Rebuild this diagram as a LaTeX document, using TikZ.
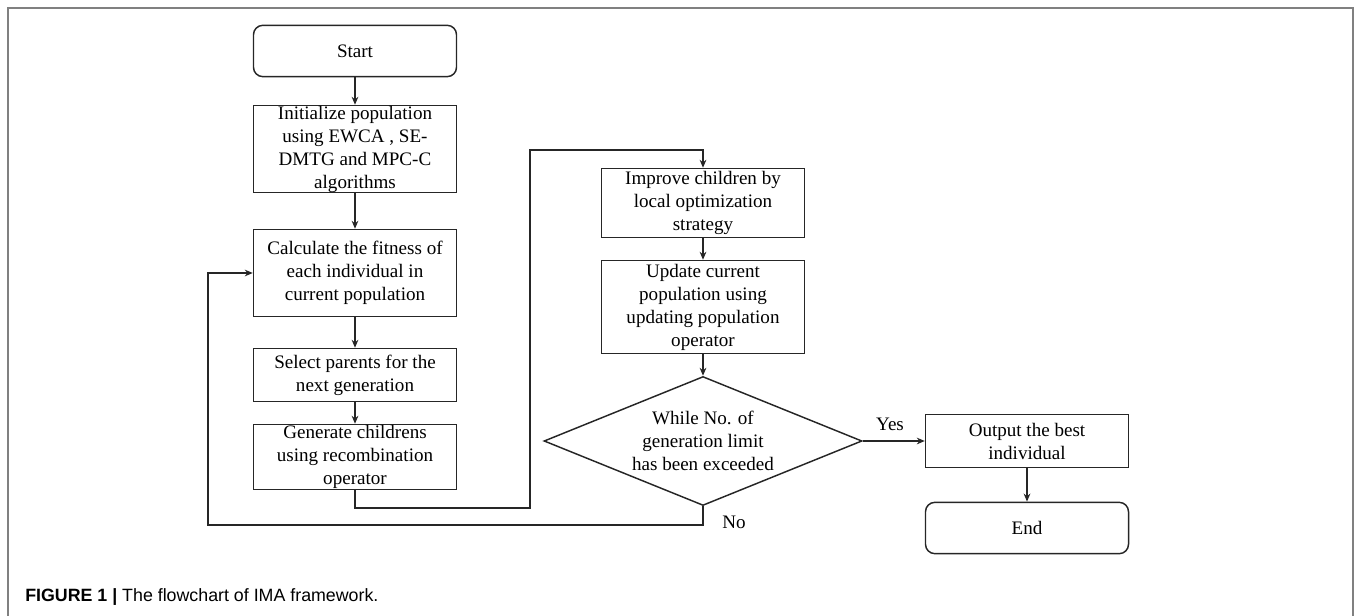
\documentclass[tikz,border=0pt]{standalone}
\usepackage{fontspec}
\setmainfont{Liberation Serif}
\newfontfamily\capfont{Liberation Sans}
\usetikzlibrary{arrows.meta, shapes.geometric}
\definecolor{imaline}{HTML}{262626}
\definecolor{imaframe}{HTML}{808080}

\begin{document}
\begin{tikzpicture}[x=0.75pt, y=-0.75pt,
    flowstep/.style={rectangle, draw=imaline, line width=1.1pt, align=center,
                 font=\fontsize{14.3}{17.25}\selectfont, minimum width=152.25pt, inner ysep=0pt},
    termstep/.style={flowstep, rounded corners=7pt, minimum height=38.5pt},
    decstep/.style={diamond, aspect=2.47, draw=imaline, line width=1.1pt, align=center,
                 font=\fontsize{14.3}{17.25}\selectfont, minimum width=238.5pt,
                 minimum height=96.75pt, inner sep=0pt},
    arr/.style={-{Stealth[length=6pt, width=5pt]}, line width=1.1pt, draw=imaline},
    lbl/.style={font=\fontsize{14.3}{17.25}\selectfont, inner sep=0pt}
  ]
    \useasboundingbox (0,0) rectangle (1355,616);
    \draw[imaframe, line width=1.4pt] (8,616) -- (8,8) -- (1353,8) -- (1353,616);

    % left column
    \node[termstep] (start) at (355,51) {Start};
    \node[flowstep, minimum height=65.25pt] (init) at (355,149)
        {Initialize population\\ using EWCA , SE-\\ DMTG and MPC-C\\ algorithms};
    \node[flowstep, minimum height=65.25pt] (calc) at (355,273)
        {Calculate the fitness of\\ each individual in\\ current population};
    \node[flowstep, minimum height=39.75pt] (select) at (355,375)
        {Select parents for the\\ next generation};
    \node[flowstep, minimum height=48.75pt] (gen) at (355,457)
        {Generate childrens\\ using recombination\\ operator};

    % middle column
    \node[flowstep, minimum height=51.75pt] (improve) at (703,203)
        {Improve children by\\ local optimization\\ strategy};
    \node[flowstep, minimum height=69.75pt] (update) at (703,307)
        {Update current\\ population using\\ updating population\\ operator};
    \node[decstep] (limit) at (703,441)
        {While No. of\\ generation limit\\ has been exceeded};

    % right column
    \node[flowstep, minimum height=39.75pt] (output) at (1027,441)
        {Output the best\\ individual};
    \node[termstep] (end) at (1027,528) {End};

    \coordinate (gdown) at (530,508);
    \coordinate (gup) at (530,150);
    \coordinate (nback) at (208,525);

    \draw[arr] (start) -- (init);
    \draw[arr] (init) -- (calc);
    \draw[arr] (calc) -- (select);
    \draw[arr] (select) -- (gen);
    \draw[arr] (gen.south) |- (gdown) -- (gup) -| (improve.north);
    \draw[arr] (improve) -- (update);
    \draw[arr] (update) -- (limit);
    \draw[arr] (limit.east) -- (output.west);
    \draw[arr] (output) -- (end);
    \draw[arr] (limit.south) |- (nback) |- (calc.west);

    \node[lbl] (yes) at (890,424) {Yes};
    \node[lbl] (no) at (734,522) {No};

    \node[anchor=west, inner sep=0pt, font=\capfont\fontsize{13.35}{16}\selectfont] (cap) at (25,597)
        {\textbf{FIGURE 1 |} The flowchart of IMA framework.};
  \end{tikzpicture}
\end{document}
